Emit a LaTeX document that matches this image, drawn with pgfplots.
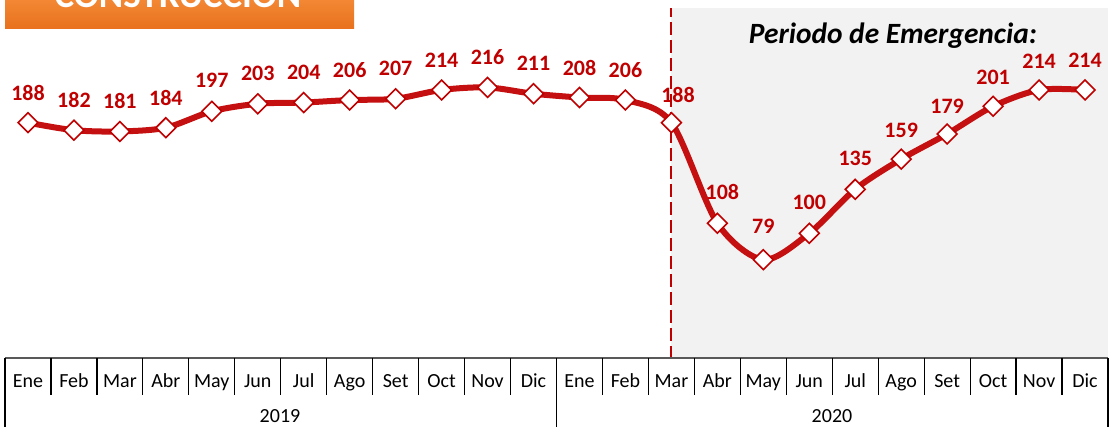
\documentclass[border=0pt]{standalone}
\usepackage{pgfplots}
\pgfplotsset{compat=1.18}
\usepackage{pgfplotstable}
\usepackage{fontspec}
\setmainfont{Carlito}
\definecolor{lred}{HTML}{C41010}
\definecolor{tred}{HTML}{C00000}
\definecolor{bgshade}{HTML}{F2F2F2}
\definecolor{orA}{HTML}{F38834}
\definecolor{orB}{HTML}{E8711D}
\pgfplotstableread{
x y dx dy
0 188 0 15
1 182 0 15
2 181 0 15
3 184 0 15
4 197 0 15.5
5 203 0 15
6 204 0 15
7 206 0 15
8 207 0 15
9 214 0 15
10 216 0 15
11 211 0 15
12 208 0 15
13 206 0 15
14 188 3.3 14
15 108 2.5 15.5
16 79 0 16.5
17 100 0 15.5
18 135 0 15.5
19 159 0 14.5
20 179 0 14
21 201 0 14.5
22 214 0 14.5
23 214 0 15
}\datatable
\begin{document}
\begin{tikzpicture}
\clip (0,0) rectangle (556pt,213.5pt);
\useasboundingbox (0,0) rectangle (556pt,213.5pt);
% orange title box
\shade[top color=orA, bottom color=orB] (2.5pt,199pt) rectangle (177pt,214pt);
\node[anchor=base, text=white, font=\bfseries\fontsize{18.5}{20}\selectfont, inner sep=0pt] at (89pt,209.5pt) {CONSTRUCCIÓN};
\begin{axis}[
  at={(2.5pt,34pt)}, anchor=south west,
  width=551.5pt, height=175.5pt, scale only axis,
  xmin=-0.5, xmax=23.5, ymin=0, ymax=279.2,
  axis lines=none, clip=false,
]
\fill[bgshade] (axis cs:14,0) rectangle (axis cs:23.5,279.2);
\addplot[tred, line width=1pt, dash pattern=on 6.5pt off 2.5pt, mark=none] coordinates {(14,0) (14,279.2)};
\node[font=\bfseries\itshape\fontsize{14.7}{16}\selectfont] at (axis cs:18.82,257) {Periodo de Emergencia:};
\addplot[
  lred, line width=3pt, smooth, tension=0.5,
  mark=square*, mark size=3.5pt,
  mark options={rotate=45, fill=white, draw=tred, line width=0.8pt, solid},
  nodes near coords,
  point meta=explicit symbolic,
  visualization depends on={\thisrow{dx} \as \dx},
  visualization depends on={\thisrow{dy} \as \dy},
  every node near coord/.append style={anchor=center, xshift=\dx pt, yshift=\dy pt, text=tred, font=\bfseries\fontsize{11}{13}\selectfont, inner sep=0pt},
] table[x=x, y=y, meta=y] {\datatable};
\end{axis}
% category table
\def\cw{22.979}
\draw[color=black!65, line width=0.7pt] (2.5pt,34.5pt) -- (554pt,34.5pt);
\foreach \k in {1,...,23} {
  \ifnum\k=12
    \draw[black, line width=0.6pt] ({(2.5+\cw*\k)*1pt},34.5pt) -- ({(2.5+\cw*\k)*1pt},0pt);
  \else
    \draw[black, line width=0.6pt] ({(2.5+\cw*\k)*1pt},34.5pt) -- ({(2.5+\cw*\k)*1pt},16pt);
  \fi
}
\draw[black, line width=0.6pt] (2.5pt,34.5pt) -- (2.5pt,0pt);
\draw[black, line width=0.6pt] (554pt,34.5pt) -- (554pt,0pt);
\foreach \m [count=\i from 0] in {Ene,Feb,Mar,Abr,May,Jun,Jul,Ago,Set,Oct,Nov,Dic,Ene,Feb,Mar,Abr,May,Jun,Jul,Ago,Set,Oct,Nov,Dic} {
  \node[anchor=base, font=\fontsize{10}{12}\selectfont, inner sep=0pt] at ({(2.5+\cw*(\i+0.5))*1pt},19.5pt) {\m};
}
\node[anchor=base, font=\fontsize{10}{12}\selectfont, inner sep=0pt] at (140pt,2.3pt) {2019};
\node[anchor=base, font=\fontsize{10}{12}\selectfont, inner sep=0pt] at (416pt,2.3pt) {2020};
\end{tikzpicture}
\end{document}
